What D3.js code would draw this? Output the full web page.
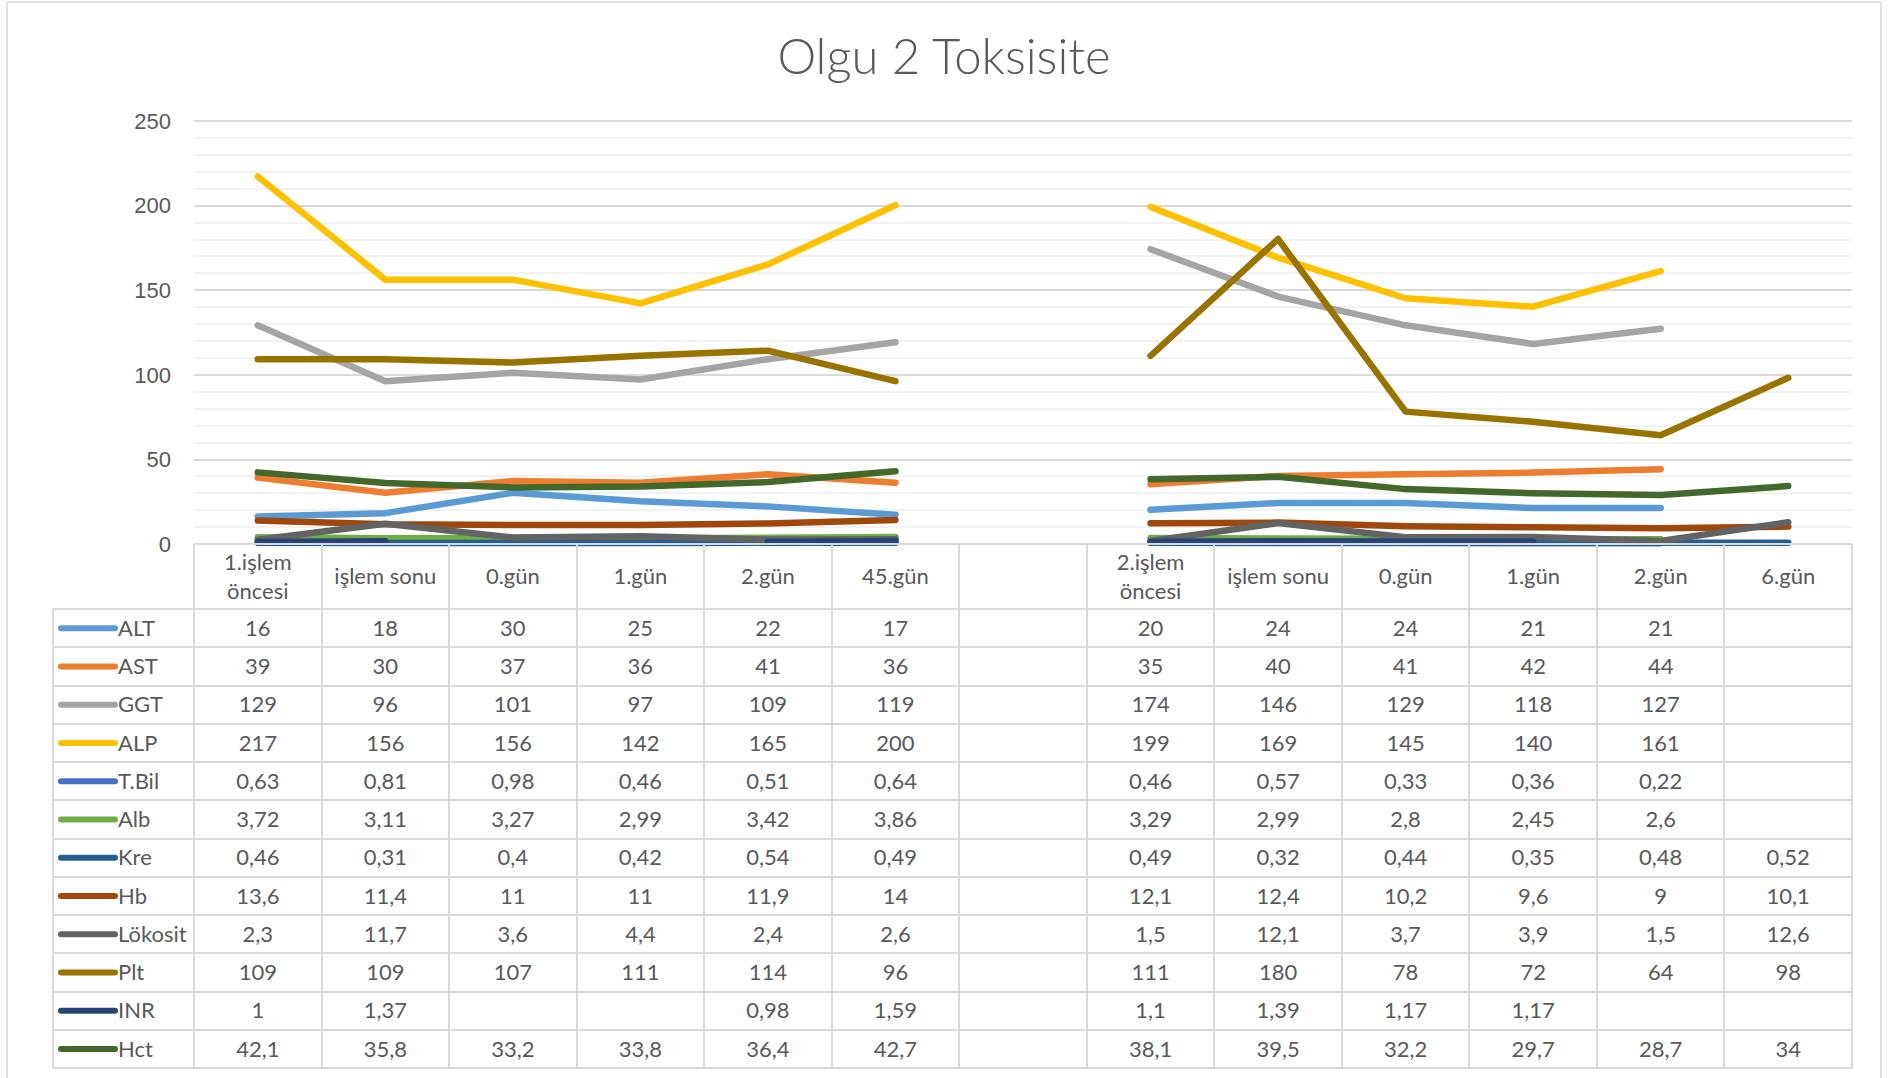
<!doctype html>
<html>
<head>
<meta charset="UTF-8" />
<title>Olgu 2 Toksisite</title>
<style type="text/css">
body {
	margin: 0;
	background: #fff;
	font-family: Lato, "Open Sans", sans-serif;
}

.grid line {
	shape-rendering: crispEdges;
}

.grid .domain {
	display: none;
}

.y.axis text {
	fill: #595959;
	font-size: 22px;
}

.cell text {
	fill: #595959;
	font-size: 22px;
}

.tbl {
	stroke: #d9d9d9;
	stroke-width: 2px;
	shape-rendering: crispEdges;
}

.line {
	fill: none;
	stroke-width: 6.5px;
	stroke-linecap: round;
	stroke-linejoin: round;
}
</style>
<script src="https://d3js.org/d3.v7.min.js"></script>
</head>
<body>
<script>
	// categories (the empty one is the gap between the two procedures)
	var categories = ["1.işlem öncesi", "işlem sonu", "0.gün", "1.gün", "2.gün", "45.gün", "",
		"2.işlem öncesi", "işlem sonu", "0.gün", "1.gün", "2.gün", "6.gün"];

	var seriesNames = ["ALT", "AST", "GGT", "ALP", "T.Bil", "Alb", "Kre", "Hb", "Lökosit", "Plt", "INR", "Hct"];

	var alt     = [16, 18, 30, 25, 22, 17, null, 20, 24, 24, 21, 21, null];
	var ast     = [39, 30, 37, 36, 41, 36, null, 35, 40, 41, 42, 44, null];
	var ggt     = [129, 96, 101, 97, 109, 119, null, 174, 146, 129, 118, 127, null];
	var alp     = [217, 156, 156, 142, 165, 200, null, 199, 169, 145, 140, 161, null];
	var tbil    = [0.63, 0.81, 0.98, 0.46, 0.51, 0.64, null, 0.46, 0.57, 0.33, 0.36, 0.22, null];
	var alb     = [3.72, 3.11, 3.27, 2.99, 3.42, 3.86, null, 3.29, 2.99, 2.8, 2.45, 2.6, null];
	var kre     = [0.46, 0.31, 0.4, 0.42, 0.54, 0.49, null, 0.49, 0.32, 0.44, 0.35, 0.48, 0.52];
	var hb      = [13.6, 11.4, 11, 11, 11.9, 14, null, 12.1, 12.4, 10.2, 9.6, 9, 10.1];
	var lokosit = [2.3, 11.7, 3.6, 4.4, 2.4, 2.6, null, 1.5, 12.1, 3.7, 3.9, 1.5, 12.6];
	var plt     = [109, 109, 107, 111, 114, 96, null, 111, 180, 78, 72, 64, 98];
	var inr     = [1, 1.37, null, null, 0.98, 1.59, null, 1.1, 1.39, 1.17, 1.17, null, null];
	var hct     = [42.1, 35.8, 33.2, 33.8, 36.4, 42.7, null, 38.1, 39.5, 32.2, 29.7, 28.7, 34];

	var majorTicks = [0, 50, 100, 150, 200, 250];

	var colors = ["#5b9bd5", "#ed7d31", "#a5a5a5", "#ffc000", "#4472c4", "#70ad47",
		"#255e91", "#9e480e", "#636363", "#997300", "#264478", "#43682b"];

	var values = [alt, ast, ggt, alp, tbil, alb, kre, hb, lokosit, plt, inr, hct];
	var series = seriesNames.map(function(name, i) {
		return {name: name, color: colors[i], values: values[i]};
	});

	var W = 1890, H = 1078;
	var plot = {left: 194, right: 1852, top: 120.6, bottom: 543.6};
	var legendLeft = 53,
		headerH = 65.5,
		rowH = 38.25;

	var svg = d3.select("body").append("svg")
		.attr("width", W)
		.attr("height", H);

	// chart border
	svg.append("rect")
		.attr("x", 7)
		.attr("y", 2)
		.attr("width", 1874)
		.attr("height", H + 10)
		.attr("fill", "none")
		.attr("stroke", "#d9d9d9")
		.attr("stroke-width", 1.5);

	svg.append("text")
		.attr("x", 944)
		.attr("y", 74)
		.attr("text-anchor", "middle")
		.style("font-size", "49px")
		.style("font-weight", 300)
		.style("fill", "#595959")
		.text("Olgu 2 Toksisite");

	var x = d3.scaleBand()
		.domain(d3.range(categories.length))
		.range([plot.left, plot.right]);

	var y = d3.scaleLinear()
		.domain([0, 250])
		.range([plot.bottom, plot.top]);

	var plotW = plot.right - plot.left;

	// minor gridlines
	svg.append("g")
		.attr("class", "grid")
		.attr("transform", "translate(" + plot.left + ",0)")
		.call(d3.axisLeft(y).tickValues(d3.range(10, 250, 10)).tickSize(-plotW).tickFormat(""))
		.selectAll("line")
		.attr("stroke", "#f2f2f2")
		.attr("stroke-width", 2);

	// major gridlines + labels
	var yAxis = svg.append("g")
		.attr("class", "y axis grid")
		.attr("transform", "translate(" + plot.left + ",0)")
		.call(d3.axisLeft(y).tickValues(majorTicks).tickSize(-plotW).tickPadding(23));
	yAxis.selectAll("line")
		.attr("stroke", "#d9d9d9")
		.attr("stroke-width", 2);
	yAxis.selectAll("text").attr("dy", "0.35em");

	// lines
	var line = d3.line()
		.defined(function(d) { return d != null; })
		.x(function(d, i) { return x(i) + x.bandwidth() / 2; })
		.y(function(d) { return y(d); });

	svg.append("g").selectAll("path")
		.data(series)
		.enter().append("path")
		.attr("class", "line")
		.attr("stroke", function(d) { return d.color; })
		.attr("d", function(d) { return line(d.values); });

	// data table
	var tableTop = plot.bottom,
		bodyTop = tableTop + headerH,
		tableBottom = bodyTop + rowH * series.length;

	var grid = svg.append("g");

	// header row
	grid.append("line").attr("class", "tbl")
		.attr("x1", plot.left).attr("x2", plot.right)
		.attr("y1", tableTop).attr("y2", tableTop);
	// body horizontal lines
	d3.range(series.length + 1).forEach(function(r) {
		var yy = bodyTop + r * rowH;
		grid.append("line").attr("class", "tbl")
			.attr("x1", legendLeft).attr("x2", plot.right)
			.attr("y1", yy).attr("y2", yy);
	});
	// verticals
	d3.range(categories.length + 1).forEach(function(c) {
		var xx = plot.left + c * x.step();
		grid.append("line").attr("class", "tbl")
			.attr("x1", xx).attr("x2", xx)
			.attr("y1", tableTop).attr("y2", tableBottom);
	});
	grid.append("line").attr("class", "tbl")
		.attr("x1", legendLeft).attr("x2", legendLeft)
		.attr("y1", bodyTop).attr("y2", tableBottom);

	// header labels (wrapped when too wide)
	var header = svg.append("g").attr("class", "cell");
	categories.forEach(function(c, i) {
		var cx = x(i) + x.bandwidth() / 2,
			cy = tableTop + headerH / 2;
		var t = header.append("text")
			.attr("x", cx)
			.attr("text-anchor", "middle")
			.text(c);
		if (t.node().getComputedTextLength() > x.bandwidth() - 10) {
			var words = c.split(" ");
			t.text(null);
			t.append("tspan").attr("x", cx).attr("y", cy - 14.5).attr("dy", "0.35em").text(words[0]);
			t.append("tspan").attr("x", cx).attr("y", cy + 14.5).attr("dy", "0.35em").text(words.slice(1).join(" "));
		} else {
			t.attr("y", cy).attr("dy", "0.35em");
		}
	});

	var fmt = function(v) { return v == null ? "" : String(v).replace(".", ","); };

	var rows = svg.append("g").attr("class", "cell")
		.selectAll("g")
		.data(series)
		.enter().append("g")
		.attr("transform", function(d, i) { return "translate(0," + (bodyTop + i * rowH + rowH / 2) + ")"; });

	rows.append("line")
		.attr("x1", legendLeft + 8)
		.attr("x2", legendLeft + 62)
		.attr("stroke", function(d) { return d.color; })
		.attr("stroke-width", 6)
		.attr("stroke-linecap", "round");

	rows.append("text")
		.attr("x", legendLeft + 65)
		.attr("dy", "0.35em")
		.text(function(d) { return d.name; });

	rows.selectAll("text.val")
		.data(function(d) { return d.values; })
		.enter().append("text")
		.attr("class", "val")
		.attr("x", function(d, i) { return x(i) + x.bandwidth() / 2; })
		.attr("dy", "0.35em")
		.attr("text-anchor", "middle")
		.text(fmt);
</script>
</body>
</html>
